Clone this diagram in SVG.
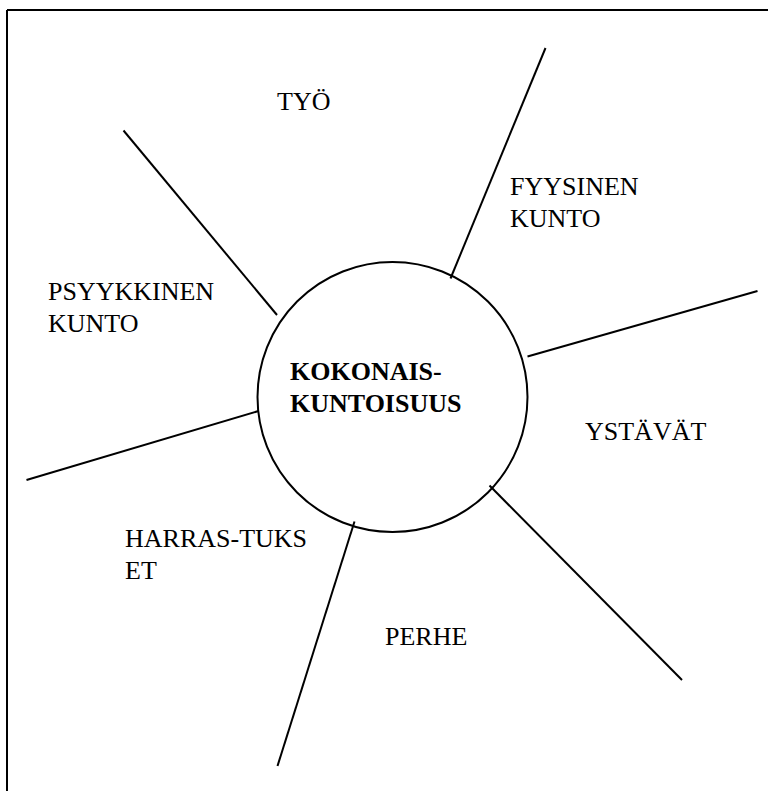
<svg xmlns="http://www.w3.org/2000/svg" width="768" height="791" viewBox="0 0 768 791">
<style>
.ln{stroke:#000;stroke-width:2;fill:none;stroke-linecap:butt}
.t{font-family:"Liberation Serif","Times New Roman",serif;font-size:26px;fill:#000}
.b{font-weight:bold}
</style>
<rect width="768" height="791" fill="#fff"/>
<g id="frame">
<path class="ln" d="M7,10 H768 M7,10 V791" stroke-width="2.5"/>
</g>
<g id="connectors">
<line class="ln" x1="545.5" y1="48" x2="450.5" y2="278.5"/>
<line class="ln" x1="123.5" y1="130.5" x2="277" y2="315"/>
<line class="ln" x1="527.5" y1="356.5" x2="757.5" y2="291"/>
<line class="ln" x1="26.5" y1="480" x2="258.5" y2="411"/>
<line class="ln" x1="489.5" y1="485.5" x2="682" y2="680"/>
<line class="ln" x1="354.5" y1="521.5" x2="277.5" y2="766"/>
</g>
<g id="center">
<circle class="ln" cx="392.5" cy="397" r="135"/>
<text class="t b" x="290" y="380">KOKONAIS-</text>
<text class="t b" x="290" y="412">KUNTOISUUS</text>
</g>
<g id="tyo"><text class="t" x="277" y="110">TYÖ</text></g>
<g id="fyysinen"><text class="t" x="510" y="195">FYYSINEN</text><text class="t" x="510" y="227">KUNTO</text></g>
<g id="psyykkinen"><text class="t" x="48" y="300">PSYYKKINEN</text><text class="t" x="48" y="332">KUNTO</text></g>
<g id="ystavat"><text class="t" x="585" y="440">YSTÄVÄT</text></g>
<g id="harrastukset"><text class="t" x="125" y="547">HARRAS-TUKS</text><text class="t" x="125" y="579">ET</text></g>
<g id="perhe"><text class="t" x="385" y="645">PERHE</text></g>
</svg>
